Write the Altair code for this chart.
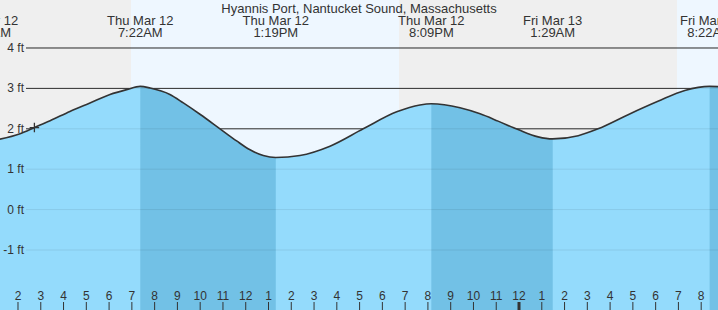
import altair as alt
import pandas as pd

TITLE = "Hyannis Port, Nantucket Sound, Massachusetts"

# Tide curve: hours since Thu Mar 12 00:00, height in ft
hours = [1.10, 2.09, 2.75, 3.41, 4.28, 5.16, 6.04, 6.77, 7.37, 7.80, 8.67, 9.26,
         9.99, 10.87, 11.60, 12.19, 12.77, 13.32, 14.38, 15.70, 17.16, 18.63, 19.65, 20.15,
         21.41, 22.29, 23.08, 23.96, 24.84, 25.48, 26.60, 27.47, 28.79, 30.10,
         31.28, 32.37, 32.90]
heights = [1.73, 1.88, 2.04, 2.20, 2.43, 2.64, 2.85, 2.97, 3.05, 3.01, 2.85, 2.64,
           2.36, 2.00, 1.70, 1.48, 1.34, 1.29, 1.34, 1.57, 2.00, 2.42, 2.59, 2.62,
           2.52, 2.37, 2.19, 1.98, 1.80, 1.75, 1.83, 2.00, 2.35, 2.68,
           2.95, 3.05, 3.04]

# High / low tide events
event_hours = [0.55, 7.37, 13.32, 20.15, 25.48, 32.37]
event_day = ["Thu Mar 12", "Thu Mar 12", "Thu Mar 12", "Thu Mar 12", "Fri Mar 13", "Fri Mar 13"]
event_time = ["12:35AM", "7:22AM", "1:19PM", "8:09PM", "1:29AM", "8:22AM"]

# Falling-tide intervals (high -> low)
fall_start = [7.37, 20.15, 32.37]
fall_end = [13.32, 25.48, 33.0]

# Daylight intervals
day_start = [6.96, 30.94]
day_end = [18.73, 34.0]

# Y axis
y_ticks = [4, 3, 2, 1, 0, -1]
y_labels = ["4 ft", "3 ft", "2 ft", "1 ft", "0 ft", "-1 ft"]

# X axis hour ticks
tick_hours = list(range(2, 33))
tick_labels = ["2", "3", "4", "5", "6", "7", "8", "9", "10", "11", "12", "1",
               "2", "3", "4", "5", "6", "7", "8", "9", "10", "11", "12", "1",
               "2", "3", "4", "5", "6", "7", "8"]
midnight = [24]

# current-time marker
now_hour = [2.72]
now_ft = [2.03]

X0, X1 = 1.2096, 32.738
Y0, Y1 = -2.485, 5.188
W, H = 718, 310
FONT = "Liberation Sans"
TXT = "#333333"

xs = alt.Scale(domain=[X0, X1], nice=False, zero=False)
ys = alt.Scale(domain=[Y0, Y1], nice=False, zero=False)

curve = pd.DataFrame({"h": hours, "ft": heights})
days = pd.DataFrame({"s": day_start, "e": day_end})
grid = pd.DataFrame({"ft": y_ticks, "label": y_labels})
events = pd.DataFrame({"h": event_hours, "day": event_day, "time": event_time})
ticks = pd.DataFrame({"h": tick_hours, "label": tick_labels})
mid = pd.DataFrame({"h": midnight})
now = pd.DataFrame({"h": now_hour, "ft": now_ft})
ttl = pd.DataFrame({"t": [TITLE]})

X = lambda f: alt.X(f, type="quantitative", scale=xs, axis=None)
Y = lambda f: alt.Y(f, type="quantitative", scale=ys, axis=None)

day_layer = alt.Chart(days).mark_rect(color="#eef7ff", clip=True).encode(
    x=X("s"), x2="e", y=alt.value(0), y2=alt.value(H))

grid_dark = alt.Chart(grid).mark_rule(color="#333333", strokeWidth=1).encode(
    x=alt.value(26), x2=alt.value(W), y=Y("ft"))

area_light = alt.Chart(curve).mark_area(color="#94dbfc", interpolate="monotone", clip=True).encode(
    x=X("h"), y=Y("ft"), y2=alt.datum(Y0))

dark_layers = []
for a, b in zip(fall_start, fall_end):
    seg = curve[(curve.h >= a - 1e-9) & (curve.h <= b + 1e-9)].reset_index(drop=True)
    dark_layers.append(
        alt.Chart(seg).mark_area(color="#72c1e6", interpolate="monotone", clip=True).encode(
            x=X("h"), y=Y("ft"), y2=alt.datum(Y0)))

grid_faint = alt.Chart(grid).mark_rule(color="#000000", opacity=0.08, strokeWidth=1).encode(
    x=alt.value(26), x2=alt.value(W), y=Y("ft"))

line = alt.Chart(curve).mark_line(color="#333333", strokeWidth=1.6, interpolate="monotone", clip=True).encode(
    x=X("h"), y=Y("ft"))

plus = alt.Chart(now).mark_point(shape="M-1,0L1,0M0,-1L0,1", filled=False, size=90,
                                 color="#333333", strokeWidth=1.3, opacity=1).encode(
    x=X("h"), y=Y("ft"))

ev_day = alt.Chart(events).mark_text(font=FONT, fontSize=13, color=TXT, align="center",
                                     baseline="alphabetic").encode(
    x=X("h"), y=alt.value(24.5), text="day:N")
ev_time = alt.Chart(events).mark_text(font=FONT, fontSize=13, color=TXT, align="center",
                                      baseline="alphabetic").encode(
    x=X("h"), y=alt.value(37), text="time:N")

title = alt.Chart(ttl).mark_text(font=FONT, fontSize=13, color=TXT, align="center",
                                 baseline="alphabetic").encode(
    x=alt.value(359), y=alt.value(12.5), text="t:N")

ylab = alt.Chart(grid).mark_text(font=FONT, fontSize=12, color=TXT, align="right",
                                 baseline="middle").encode(
    x=alt.value(24), y=Y("ft"), text="label:N")

hlab = alt.Chart(ticks).mark_text(font=FONT, fontSize=12, color=TXT, align="center",
                                  baseline="alphabetic").encode(
    x=X("h"), y=alt.value(300), text="label:N")

hticks = alt.Chart(ticks).mark_rule(color="#333333", strokeWidth=1).encode(
    x=X("h"), y=alt.value(302), y2=alt.value(H))

mticks = alt.Chart(mid).mark_rule(color="#333333", strokeWidth=3).encode(
    x=X("h"), y=alt.value(302), y2=alt.value(H))

chart = alt.layer(
    day_layer, grid_dark, area_light, *dark_layers, grid_faint, line, plus,
    ev_day, ev_time, title, ylab, hlab, hticks, mticks
).properties(
    width=W, height=H, padding=0, background="#efefef",
    autosize=alt.AutoSizeParams(type="none")
).configure_view(stroke=None)

chart.save("out.html", embed_options={"renderer": "svg", "actions": False})
